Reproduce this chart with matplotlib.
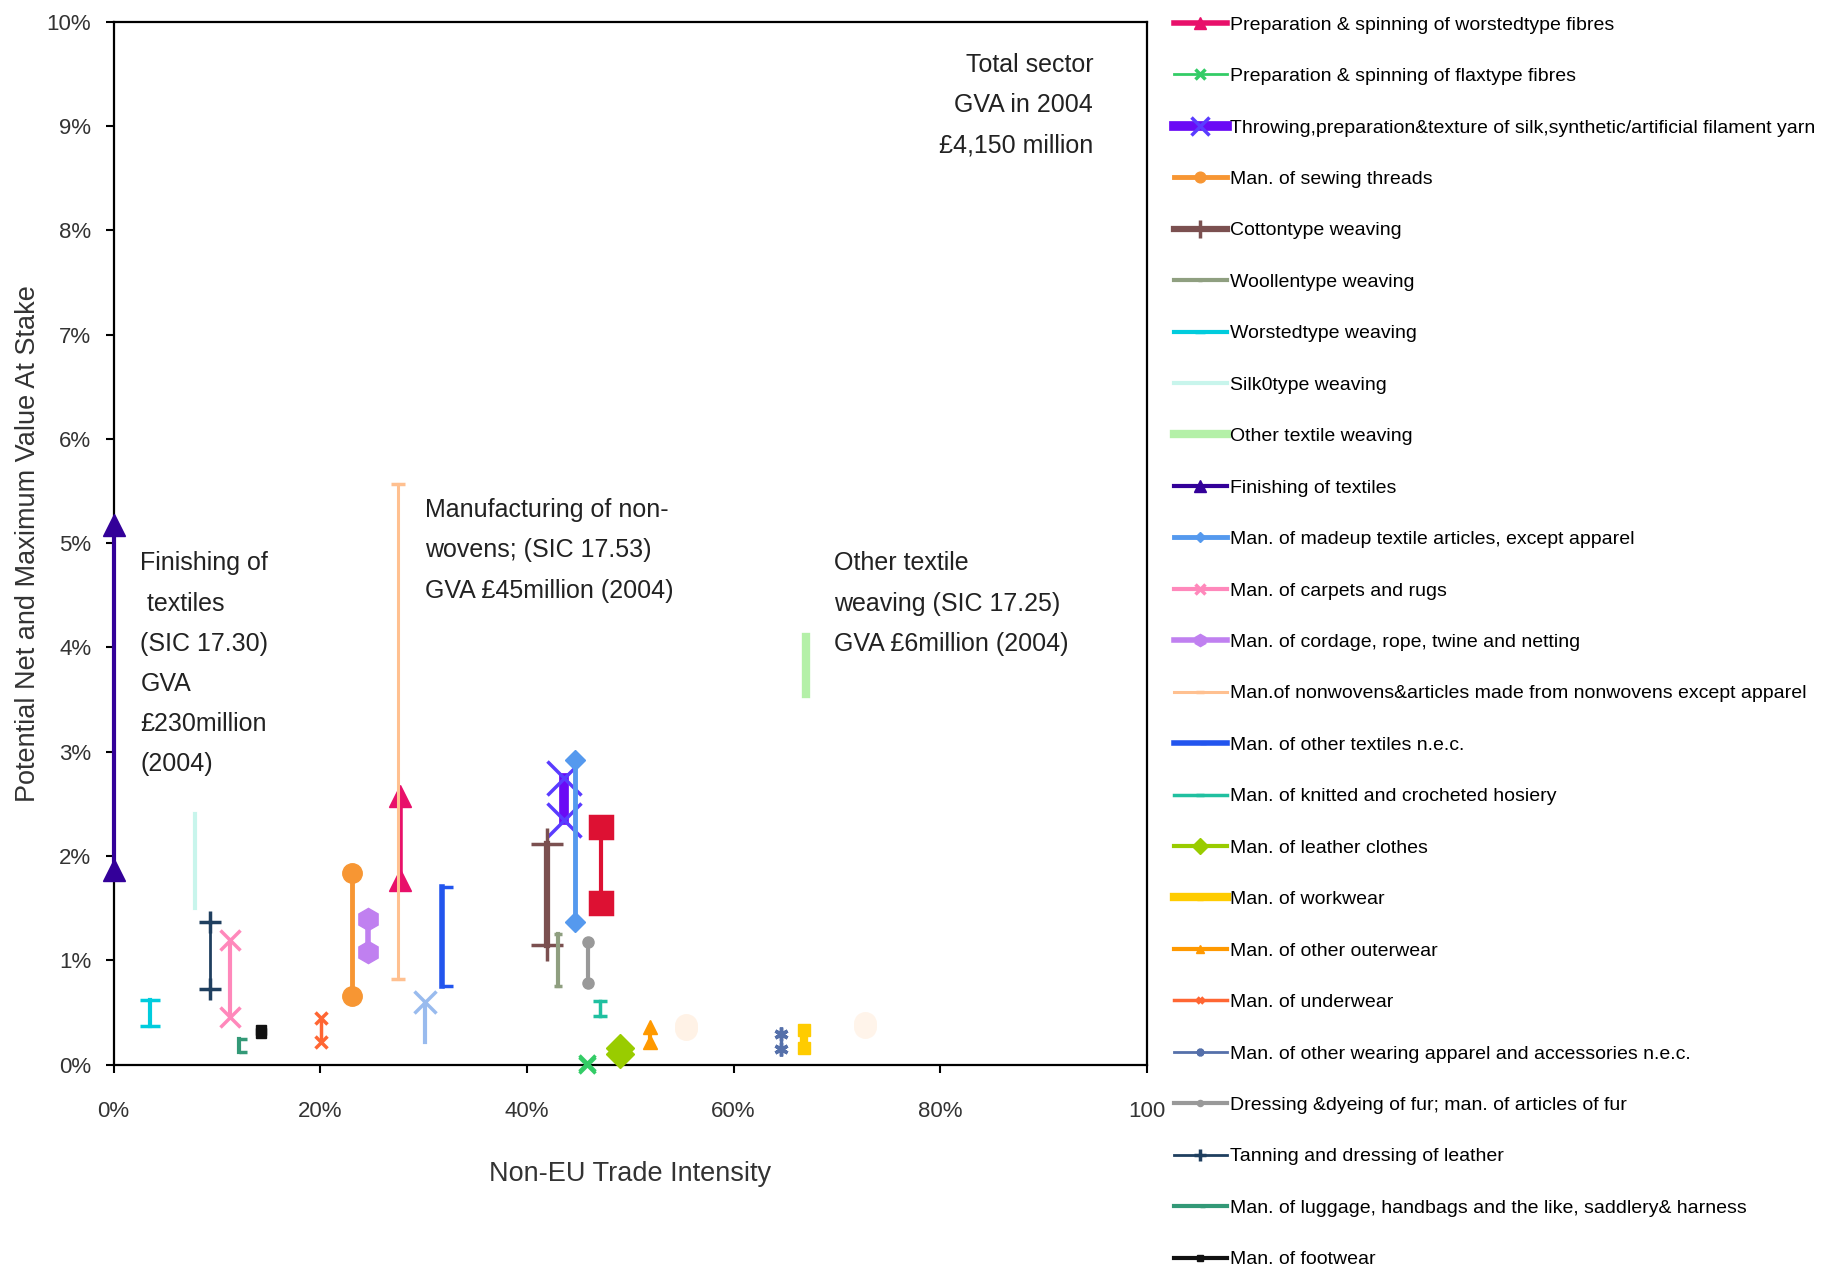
import matplotlib
matplotlib.use('Agg')
import matplotlib.pyplot as plt
from matplotlib import font_manager
from matplotlib.ticker import FixedLocator, FixedFormatter

# sectors shown in the legend (order as in the legend)
names = [
    'Preparation & spinning of worstedtype fibres',
    'Preparation & spinning of flaxtype fibres',
    'Throwing,preparation&texture of silk,synthetic/artificial filament yarn',
    'Man. of sewing threads',
    'Cottontype weaving',
    'Woollentype weaving',
    'Worstedtype weaving',
    'Silk0type weaving',
    'Other textile weaving',
    'Finishing of textiles',
    'Man. of madeup textile articles, except apparel',
    'Man. of carpets and rugs',
    'Man. of cordage, rope, twine and netting',
    'Man.of nonwovens&articles made from nonwovens except apparel',
    'Man. of other textiles n.e.c.',
    'Man. of knitted and crocheted hosiery',
    'Man. of leather clothes',
    'Man. of workwear',
    'Man. of other outerwear',
    'Man. of underwear',
    'Man. of other wearing apparel and accessories n.e.c.',
    'Dressing &dyeing of fur; man. of articles of fur',
    'Tanning and dressing of leather',
    'Man. of luggage, handbags and the like, saddlery& harness',
    'Man. of footwear',
]
# non-EU trade intensity (%)
trade = [27.7, 45.8, 43.6, 23.1, 41.9, 43.0, 3.5, 7.9, 67.0, 0.0,
         44.7, 11.3, 24.6, 27.5, 31.8, 47.1, 49.0, 66.8, 51.9, 20.1,
         64.6, 45.9, 9.3, 12.1, 14.3]
# net value at stake (%) and maximum value at stake (%)
net_val = [1.77, 0.00, 2.35, 0.66, 1.15, 0.75, 0.37, 1.50, 3.55, 1.87,
           1.37, 0.46, 1.08, 0.82, 0.75, 0.47, 0.10, 0.16, 0.22, 0.22,
           0.15, 0.78, 0.73, 0.12, 0.30]
max_val = [2.58, 0.02, 2.75, 1.84, 2.12, 1.25, 0.62, 2.40, 4.10, 5.17,
           2.92, 1.20, 1.40, 5.57, 1.70, 0.61, 0.16, 0.33, 0.36, 0.45,
           0.29, 1.18, 1.37, 0.25, 0.33]

# further sectors whose legend entries are cut off in the source
extra_trade = [47.2, 30.1, 55.4, 72.7]
extra_net = [1.55, 0.22, 0.34, 0.36]
extra_max = [2.28, 0.60, 0.38, 0.40]

colors = ['#E8106A', '#33CC66', '#6a0af5', '#F79633', '#7B5050', '#8F9F80',
          '#00CCDD', '#C8F5EC', '#B4F0A8', '#330099', '#5599EE', '#FF88BB',
          '#C080F0', '#FFC090', '#2255EE', '#20C0A0', '#99CC00', '#FFCC00',
          '#FF9900', '#FF6633', '#5570AA', '#999999', '#1F3F5F', '#339977',
          '#111111']
markers = ['^', 'x', 'x', 'o', '+', '_', '_', None, None, '^',
           'D', 'x', 'h', '_', 1, '_', 'D', 's', '^', 'x',
           (6, 2, 0), 'o', '+', 1, 's']
widths = [4, 2, 7, 3.5, 4.5, 3, 3, 3, 6, 3,
          3.5, 3, 4, 2.2, 4, 2.5, 3, 6, 3, 2.5,
          2, 3, 2, 3, 3]
msizes = [16, 12, 24, 14, 23, 6, 14, 0, 0, 16,
          10, 14, 16, 10, 8, 10, 14, 9, 10, 9,
          10, 8, 16, 6, 7]
extra_colors = ['#DD1133', '#99BBEE', '#FFF2E6', '#FFF4EA']
extra_markers = ['s', 'x', 'o', 'o']

avail = {f.name for f in font_manager.fontManager.ttflist}
base_font = 'Liberation Sans' if 'Liberation Sans' in avail else 'DejaVu Sans'
legend_font = 'Liberation Sans Narrow' if 'Liberation Sans Narrow' in avail else base_font
plt.rcParams['font.family'] = [base_font, 'DejaVu Sans']

fig = plt.figure(figsize=(18.35, 12.69), dpi=100)
ax = fig.add_axes([0.0619, 0.161, 0.5631, 0.822])

handles = []
for i in range(len(names)):
    mew = 2.5 if markers[i] in ('x', '+', '_', 1, (6, 2, 0)) else 1
    h, = ax.plot([trade[i], trade[i]], [net_val[i], max_val[i]],
                 color=colors[i], lw=widths[i], marker=markers[i],
                 ms=msizes[i], mew=mew, label=names[i], clip_on=False,
                 zorder=3 if i != 13 else 4)
    handles.append(h)
# the silk series has lighter, larger crosses
handles[2].set_markeredgecolor('#5a3cff')

for j in range(len(extra_trade)):
    ax.plot([extra_trade[j], extra_trade[j]], [extra_net[j], extra_max[j]],
            color=extra_colors[j], lw=3, marker=extra_markers[j],
            markevery=[1] if j == 1 else None,
            ms=16 if j < 2 else 14, mew=2.5, clip_on=False, zorder=2)

ax.set_xlim(0, 100)
ax.set_ylim(0, 10)
ax.xaxis.set_major_locator(FixedLocator([0, 20, 40, 60, 80, 100]))
ax.xaxis.set_major_formatter(FixedFormatter(['0%', '20%', '40%', '60%', '80%', '100']))
ax.yaxis.set_major_locator(FixedLocator(range(11)))
ax.yaxis.set_major_formatter(FixedFormatter(['%d%%' % v for v in range(11)]))
ax.tick_params(axis='both', direction='out', length=6, width=1.5,
               labelsize=16, labelcolor='#333333')
ax.tick_params(axis='x', pad=20)
ax.tick_params(axis='y', pad=10)
for s in ax.spines.values():
    s.set_linewidth(1.6)
    s.set_color('black')

ax.set_xlabel('Non-EU Trade Intensity', fontsize=19.5, color='#333333', labelpad=28)
ax.set_ylabel('Potential Net and Maximum Value At Stake', fontsize=19.5,
              color='#333333', labelpad=4)

txt = dict(fontsize=18, color='#222222', va='top', linespacing=1.85)
ax.text(94.8, 9.70, 'Total sector\nGVA in 2004\n£4,150 million', ha='right', **txt)
ax.text(2.6, 4.92, 'Finishing of\n textiles\n(SIC 17.30)\nGVA\n£230million\n(2004)',
        ha='left', **txt)
ax.text(30.1, 5.43, 'Manufacturing of non-\nwovens; (SIC 17.53)\nGVA £45million (2004)',
        ha='left', **txt)
ax.text(69.7, 4.92, 'Other textile\nweaving (SIC 17.25)\nGVA £6million (2004)',
        ha='left', **txt)

fig.legend(handles=handles, loc='upper left', bbox_to_anchor=(0.6346, 0.995),
           frameon=False, labelspacing=1.74, handlelength=2.7,
           handletextpad=0.15, borderpad=0, markerscale=0.55,
           prop={'family': legend_font, 'size': 14})

fig.savefig('out.png', dpi=100)
